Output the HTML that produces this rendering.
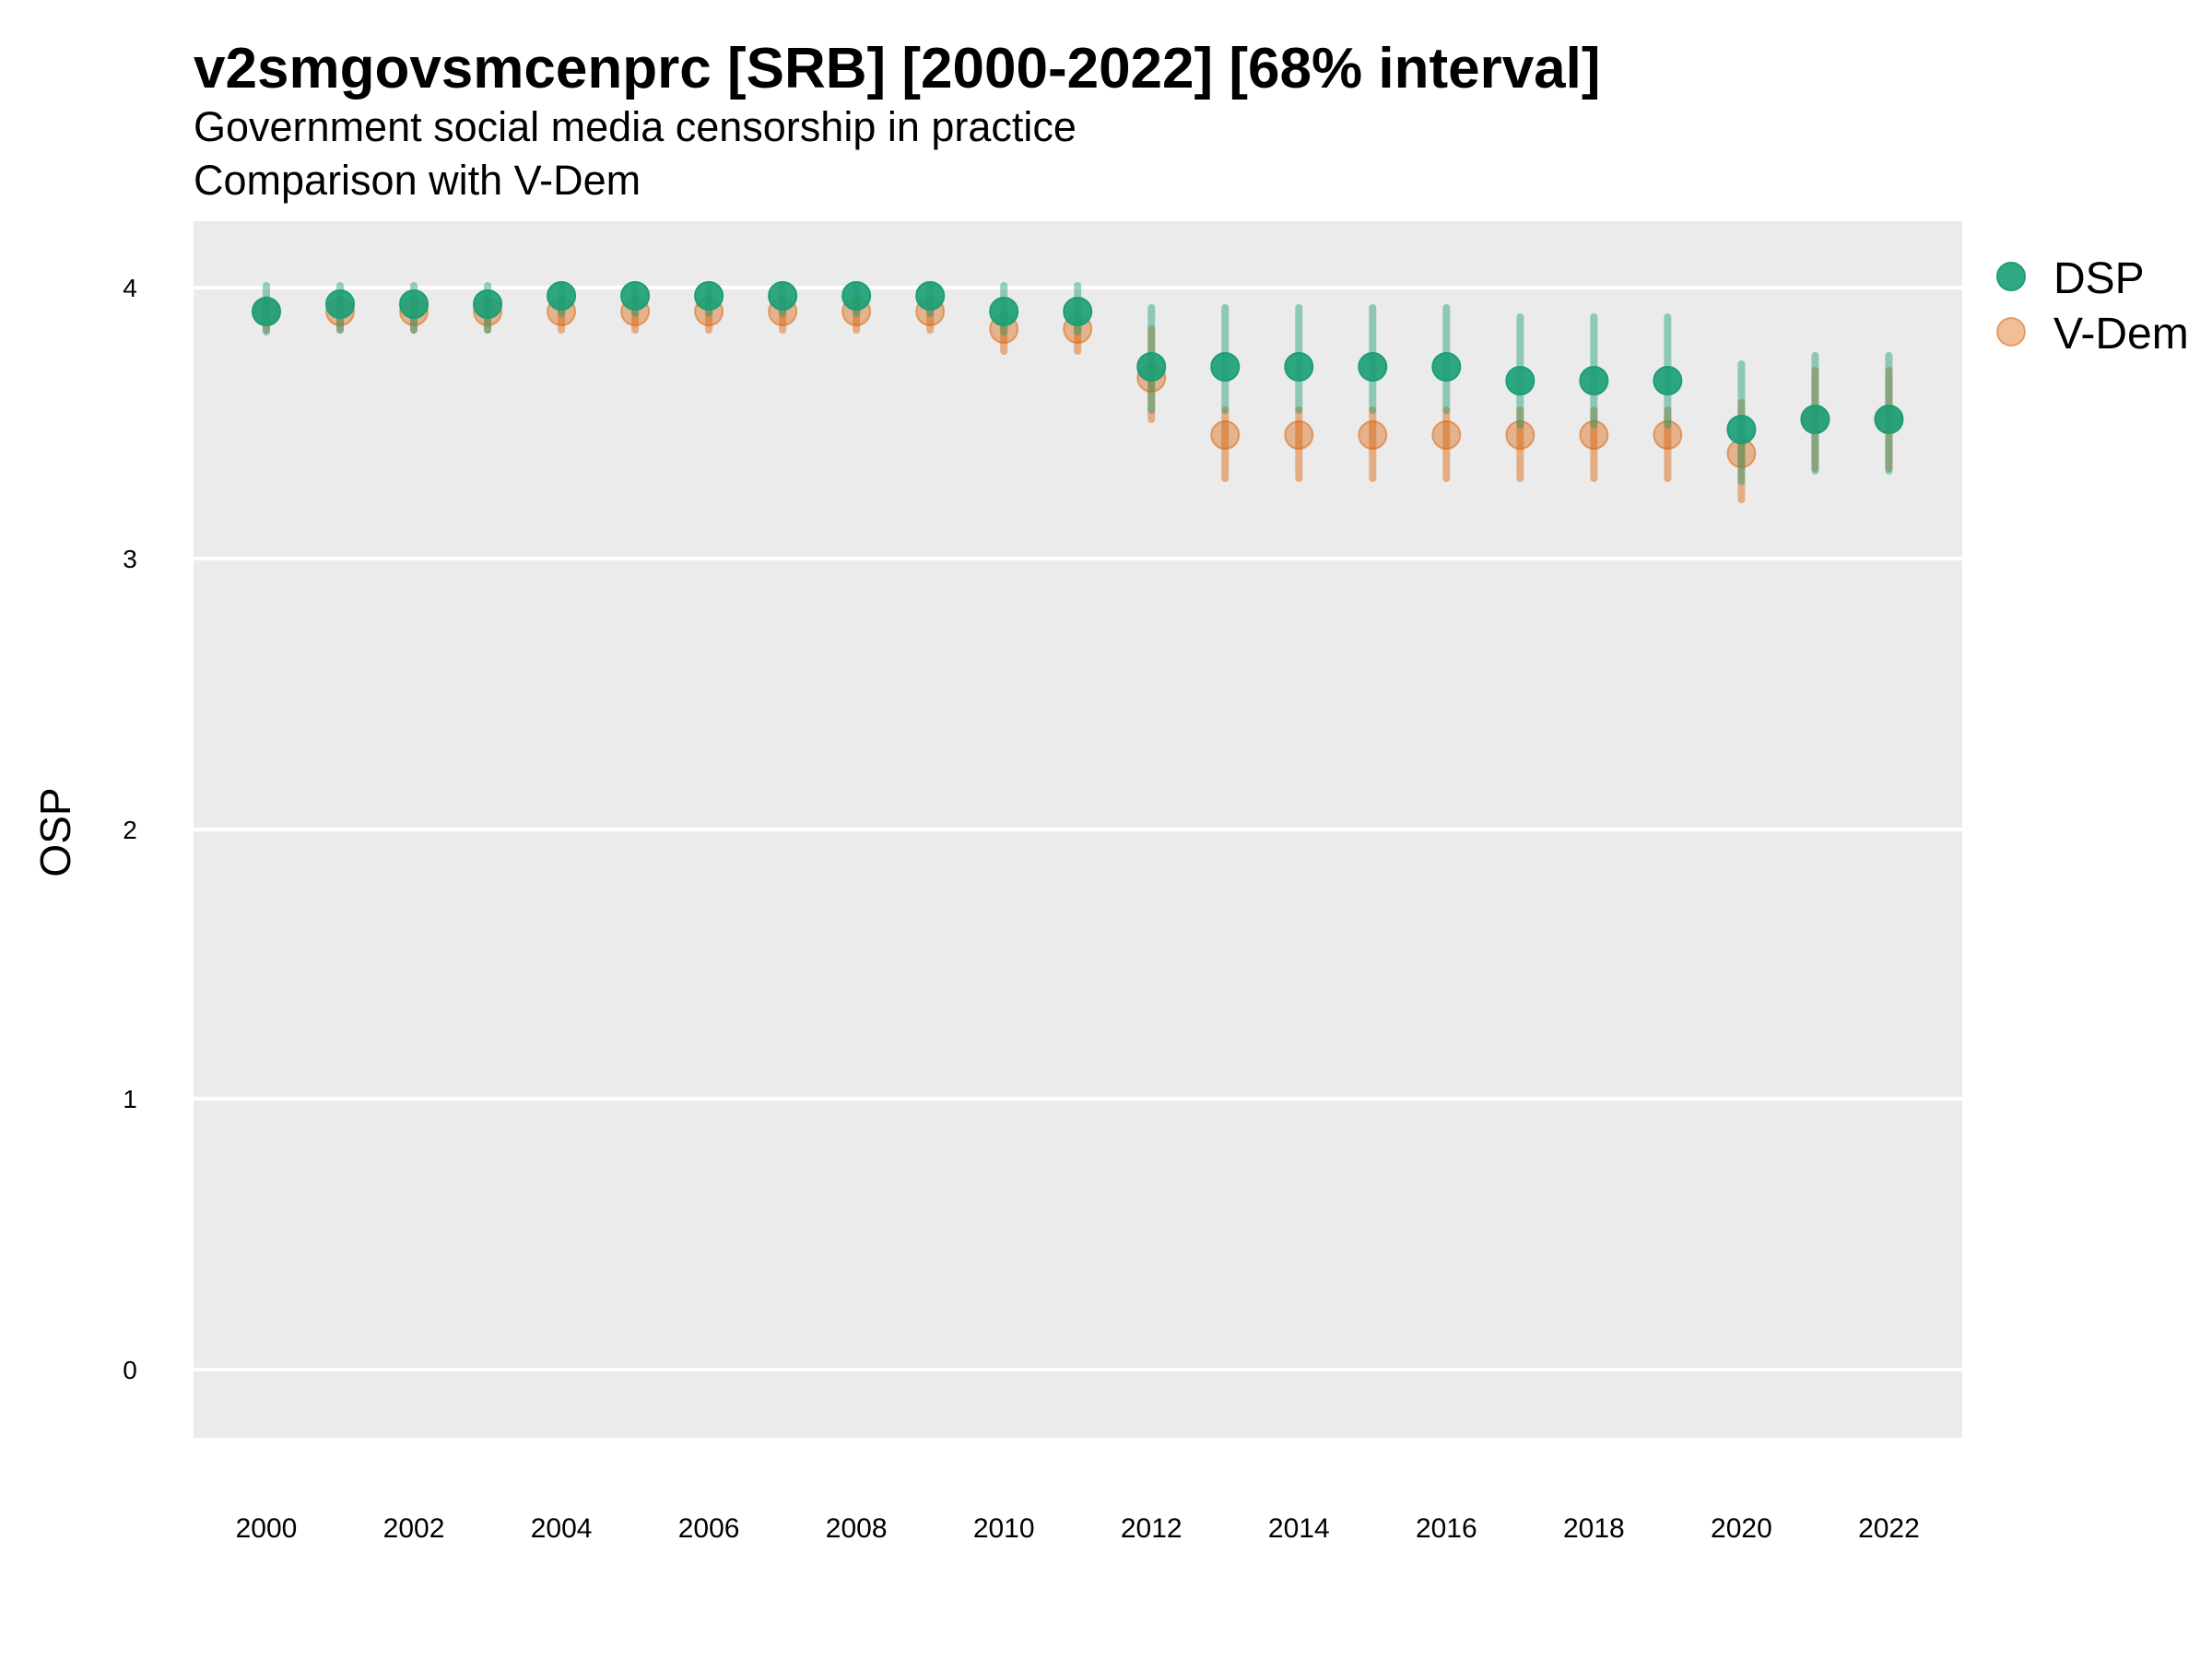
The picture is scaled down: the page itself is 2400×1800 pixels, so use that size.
<!DOCTYPE html>
<html><head><meta charset="utf-8"><style>
html,body{margin:0;padding:0;background:#fff}
svg{display:block;font-family:"Liberation Sans",Arial,sans-serif}
</style></head><body>
<svg id="s" width="2400" height="1800" viewBox="0 0 2400 1800" xmlns="http://www.w3.org/2000/svg">
<rect x="0" y="0" width="2400" height="1800" fill="#fff"/>
<text x="210" y="95" font-size="62" font-weight="bold" fill="#000">v2smgovsmcenprc [SRB] [2000-2022] [68% interval]</text>
<text x="210" y="153" font-size="45" fill="#000">Government social media censorship in practice</text>
<text x="210" y="211" font-size="45" fill="#000">Comparison with V-Dem</text>
<rect x="210" y="240" width="1919" height="1320" fill="#ebebeb"/>
<g stroke="#fff" stroke-width="4">
<line x1="210" x2="2129" y1="312" y2="312"/>
<line x1="210" x2="2129" y1="606" y2="606"/>
<line x1="210" x2="2129" y1="900" y2="900"/>
<line x1="210" x2="2129" y1="1192" y2="1192"/>
<line x1="210" x2="2129" y1="1486" y2="1486"/>
</g>
<g font-size="28" fill="#000" text-anchor="middle">
<text x="141" y="322">4</text><text x="141" y="616">3</text><text x="141" y="910">2</text><text x="141" y="1202">1</text><text x="141" y="1496">0</text>
</g>
<text transform="translate(76,903) rotate(-90)" font-size="46" text-anchor="middle" fill="#000">OSP</text>
<g id="xl" font-size="30" fill="#000" text-anchor="middle"></g>
<g id="data"></g>
<circle cx="2182" cy="300" r="15" fill="#1b9e77" fill-opacity="0.9" stroke="#1b9e77" stroke-width="2"/>
<circle cx="2182" cy="360" r="15" fill="#d95f02" fill-opacity="0.4" stroke="#d95f02" stroke-opacity="0.5" stroke-width="2"/>
<text x="2228" y="318" font-size="48" fill="#000">DSP</text>
<text x="2228" y="378" font-size="48" fill="#000">V-Dem</text>
</svg>
<script>
var ns="http://www.w3.org/2000/svg";
function X(y){return 289+(y-2000)*80.02;}
var xl=document.getElementById('xl');
for(var y=2000;y<=2022;y+=2){var t=document.createElementNS(ns,'text');t.setAttribute('x',X(y));t.setAttribute('y',1668);t.textContent=y;xl.appendChild(t);}
var dsp={2000:[338,310,360],2001:[330,310,358],2002:[330,310,358],2003:[330,310,358],
2004:[321,310,340],2005:[321,310,340],2006:[321,310,340],2007:[321,310,340],2008:[321,310,340],2009:[321,310,340],
2010:[338,310,360],2011:[338,310,360],2012:[398,334,445],2013:[398,334,445],2014:[398,334,445],2015:[398,334,445],2016:[398,334,445],
2017:[413,344,461],2018:[413,344,461],2019:[413,344,461],2020:[466,395,522],2021:[455,386,511],2022:[455,386,511]};
var vd={2000:[338,325,358],2001:[338,325,358],2002:[338,325,358],2003:[338,325,358],
2004:[338,325,358],2005:[338,325,358],2006:[338,325,358],2007:[338,325,358],2008:[338,325,358],2009:[338,325,358],
2010:[357,340,381],2011:[357,340,381],2012:[410,357,455],2013:[472,445,519],2014:[472,445,519],2015:[472,445,519],2016:[472,445,519],
2017:[472,445,519],2018:[472,445,519],2019:[472,445,519],2020:[492,437,542],2021:[455,402,508],2022:[455,402,508]};
var g=document.getElementById('data'),h='';
for(var y=2000;y<=2022;y++){var x=X(y),d=vd[y];
h+='<line x1="'+x+'" x2="'+x+'" y1="'+d[1]+'" y2="'+d[2]+'" stroke="#d95f02" stroke-opacity="0.45" stroke-width="8" stroke-linecap="round"/>';
h+='<circle cx="'+x+'" cy="'+d[0]+'" r="15" fill="#d95f02" fill-opacity="0.4" stroke="#d95f02" stroke-opacity="0.5" stroke-width="2"/>';}
for(var y=2000;y<=2022;y++){var x=X(y),d=dsp[y];
h+='<line x1="'+x+'" x2="'+x+'" y1="'+d[1]+'" y2="'+d[2]+'" stroke="#1b9e77" stroke-opacity="0.45" stroke-width="8" stroke-linecap="round"/>';
h+='<circle cx="'+x+'" cy="'+d[0]+'" r="15" fill="#1b9e77" fill-opacity="0.9" stroke="#1b9e77" stroke-width="2"/>';}
g.innerHTML=h;
</script>
</body></html>
